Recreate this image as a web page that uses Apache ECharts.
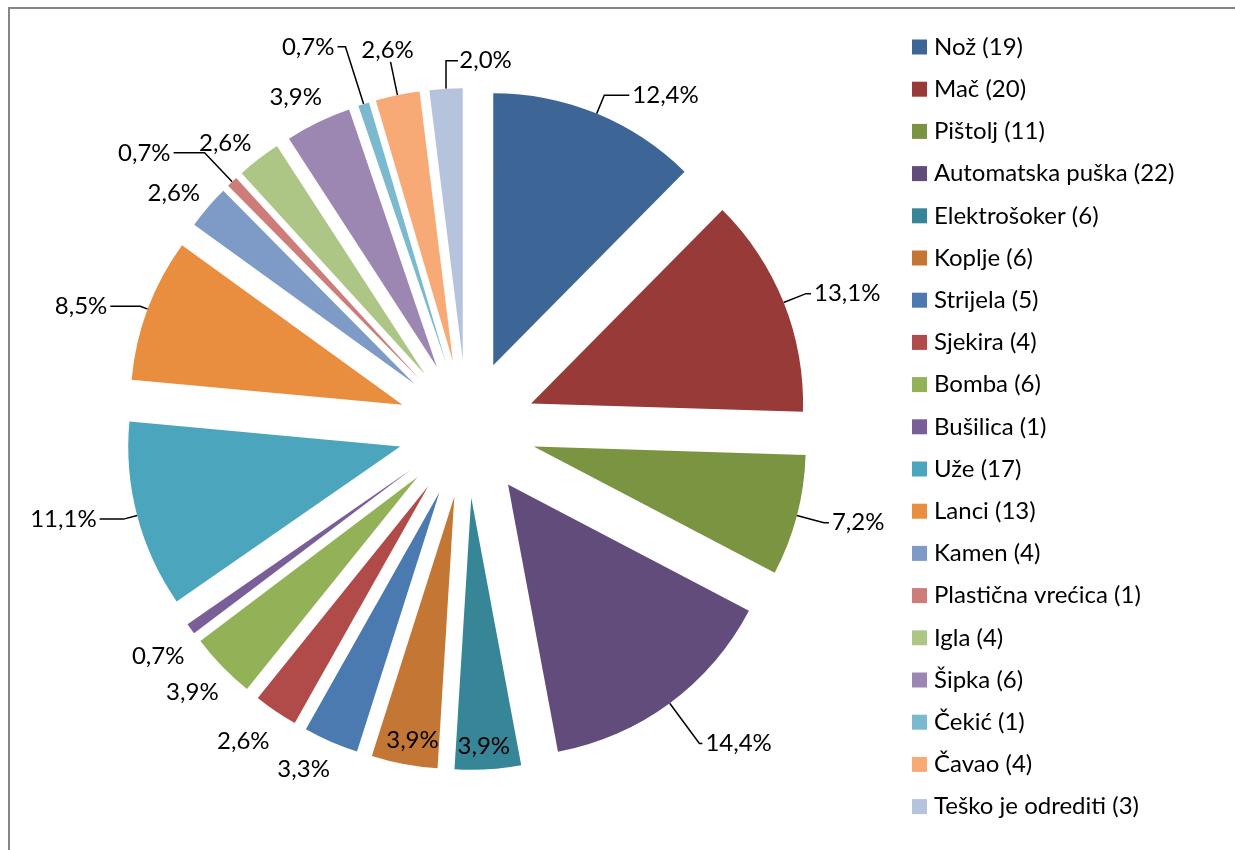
<!DOCTYPE html>
<html>
<head>
<meta charset="utf-8">
<script src="https://cdn.jsdelivr.net/npm/echarts@6/dist/echarts.min.js"></script>
<style>
  html, body { margin: 0; padding: 0; background: #fff; }
  #chart { width: 1235px; height: 850px; }
</style>
</head>
<body>
<div id="chart"></div>
<script>
var names = ['Nož', 'Mač', 'Pištolj', 'Automatska puška', 'Elektrošoker', 'Koplje', 'Strijela',
  'Sjekira', 'Bomba', 'Bušilica', 'Uže', 'Lanci', 'Kamen', 'Plastična vrećica', 'Igla',
  'Šipka', 'Čekić', 'Čavao', 'Teško je odrediti'];
var counts = [19, 20, 11, 22, 6, 6, 5, 4, 6, 1, 17, 13, 4, 1, 4, 6, 1, 4, 3];
var colors = ['#3D6596', '#973A38', '#7A9442', '#624C7C', '#378698', '#C47734', '#4A7AB0',
  '#B14B49', '#93B157', '#7A5E98', '#4AA5BD', '#E98D3F', '#7E9BC8', '#CD7C7A', '#AEC685',
  '#9C87B2', '#7BBACE', '#F7A976', '#B5C3DD'];

var total = counts.reduce(function (a, b) { return a + b; }, 0);

// leader line per slice: [show, length, length2] (mimics the hand placed excel labels)
var lines = [
  [true, 20, 25], [true, 24, 5], [true, 28, 5], [true, 50, 3],
  [false, -23, -32], [false, -24, -33], [false, 30, -14], [false, 36, -17],
  [false, 37, -26], [false, 46, -34], [true, 14, 24], [true, 8, 30],
  [false, 21, -11], [true, 40, 31], [false, 20, -8], [false, 28, -19],
  [true, 60, 8], [true, 34, 0], [true, 28, -18]
];

var data = names.map(function (n, i) {
  var l = lines[i];
  return {
    name: n + ' (' + counts[i] + ')',
    value: counts[i],
    selected: true,
    itemStyle: {color: colors[i]},
    labelLine: {show: l[0], length: l[1], length2: l[2]}
  };
});

var chart = echarts.init(document.getElementById('chart'));
chart.setOption({
  backgroundColor: '#fff',
  animation: false,
  graphic: [{
    type: 'rect',
    shape: {x: 9, y: 8, width: 1300, height: 900},
    style: {fill: 'none', stroke: '#868686', lineWidth: 2}
  }],
  legend: {
    orient: 'vertical',
    left: 907,
    top: 30,
    itemWidth: 15,
    itemHeight: 15,
    itemGap: 18.2,
    icon: 'rect',
    selectedMode: false,
    textStyle: {fontFamily: 'Lato', fontSize: 24, lineHeight: 24, color: '#000', padding: [0, 0, 0, 2]}
  },
  series: [{
    type: 'pie',
    center: [467, 429],
    radius: [0, 272],
    startAngle: 90,
    clockwise: true,
    selectedMode: 'multiple',
    selectedOffset: 69,
    avoidLabelOverlap: false,
    emphasis: {disabled: true},
    select: {disabled: false, itemStyle: {borderWidth: 0}},
    itemStyle: {borderWidth: 0},
    label: {
      position: 'outside',
      fontFamily: 'Lato',
      fontSize: 24,
      color: '#000',
      distanceToLabelLine: 3,
      formatter: function (p) {
        return (p.value / total * 100).toFixed(1).replace('.', ',') + '%';
      }
    },
    labelLine: {lineStyle: {color: '#000', width: 1.5}},
    labelLayout: function (p) {
      var pts = p.labelLinePoints;
      if (!pts) return {};
      if (p.dataIndex === 17) {
        // label sits on top of the leader line
        return {align: 'center', verticalAlign: 'bottom',
          labelLinePoints: [pts[0], pts[1], pts[1]]};
      }
      if (p.dataIndex === 18) {
        // leader line turns right, label after it
        return {align: 'left',
          labelLinePoints: [pts[0], pts[1], [pts[1][0] + 12, pts[1][1]]]};
      }
      return {};
    },
    data: data
  }]
});
</script>
</body>
</html>
